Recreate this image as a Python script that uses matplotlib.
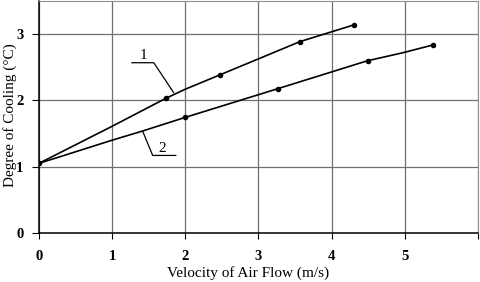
# Grau de resfriamento em função da velocidade do fluxo de ar

import matplotlib
matplotlib.use('Agg')
import matplotlib.pyplot as plt

# Curva 1 (pontos da linha e pontos marcados)
v1 = [0.0, 1.0, 1.73, 2.0, 2.48, 3.57, 4.30]
t1 = [1.05, 1.61, 2.03, 2.17, 2.39, 2.89, 3.14]
v1_pts = [0.0, 1.73, 2.48, 3.57, 4.30]
t1_pts = [1.05, 2.03, 2.39, 2.89, 3.14]

# Curva 2
v2 = [0.0, 1.0, 1.42, 2.0, 3.27, 4.49, 4.97, 5.39]
t2 = [1.05, 1.40, 1.54, 1.745, 2.18, 2.60, 2.72, 2.84]
v2_pts = [2.0, 3.27, 4.49, 5.39]
t2_pts = [1.745, 2.18, 2.60, 2.84]

x_ticks = [0, 1, 2, 3, 4, 5, 6]
x_labels = ['0', '1', '2', '3', '4', '5', '']
y_ticks = [0, 1, 2, 3]

plt.rcParams['font.family'] = ['Liberation Serif', 'DejaVu Serif']

fig = plt.figure(figsize=(4.8, 2.82), dpi=100)
ax = fig.add_axes([0.081, 0.174, 0.915, 0.822])

ax.plot(v1, t1, color='black', linewidth=1.2)
ax.plot(v1_pts, t1_pts, 'o', color='black', markersize=3)
ax.plot(v2, t2, color='black', linewidth=1.2)
ax.plot(v2_pts, t2_pts, 'o', color='black', markersize=3)

# Rótulos das curvas com linhas de chamada
ax.plot([1.27, 1.57, 1.84], [2.57, 2.57, 2.12], color='black', linewidth=0.9)
ax.text(1.43, 2.68, '1', fontsize=11, ha='center', va='center')
ax.plot([1.42, 1.555, 1.87], [1.53, 1.17, 1.17], color='black', linewidth=0.9)
ax.text(1.69, 1.28, '2', fontsize=11, ha='center', va='center')

ax.set_xlim(0, 6)
ax.set_ylim(0, 3.5)
ax.set_xticks(x_ticks)
ax.set_xticklabels(x_labels)
ax.set_yticks(y_ticks)
ax.grid(True, color='#707070', linewidth=0.9)
ax.set_axisbelow(True)

for lado in ['top', 'right']:
    ax.spines[lado].set_color('#909090')
for lado in ['left', 'bottom']:
    ax.spines[lado].set_color('black')
    ax.spines[lado].set_linewidth(1.1)

ax.tick_params(axis='x', length=4, pad=8.5, labelsize=10.5)
ax.tick_params(axis='y', length=5, pad=6, labelsize=10.5)
for lbl in ax.get_xticklabels() + ax.get_yticklabels():
    lbl.set_fontweight('bold')

ax.set_xlabel('Velocity of Air Flow (m/s)', fontsize=11)
ax.set_ylabel('Degree of Cooling (°C)', fontsize=11)
ax.xaxis.set_label_coords(0.476, -0.143)
ax.yaxis.set_label_coords(-0.05, 0.51)

plt.savefig('out.png', dpi=100)
plt.close()
